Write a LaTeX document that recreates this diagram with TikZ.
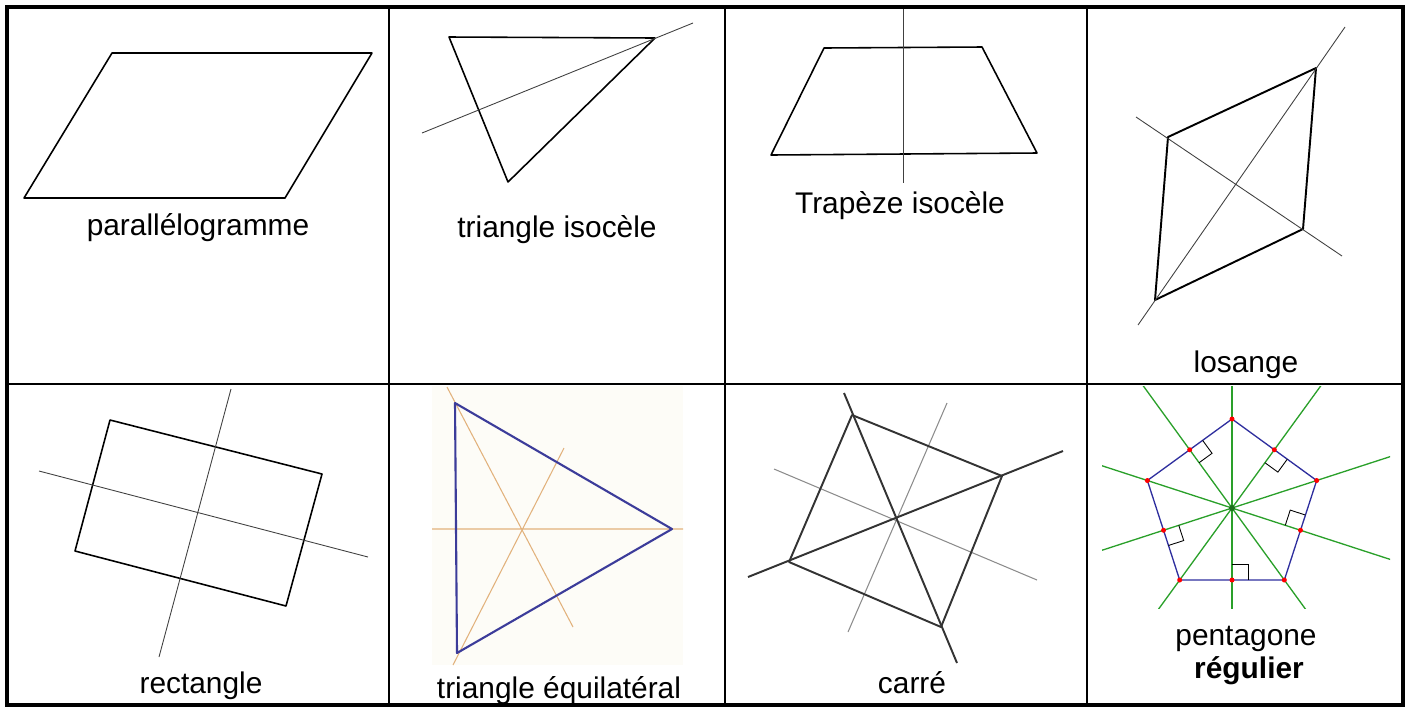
\documentclass[tikz,border=0pt]{standalone}
\usepackage{fontspec}
\setmainfont{Liberation Sans}
\usetikzlibrary{calc}

\definecolor{triblue}{HTML}{3C3C9A}
\definecolor{axeorange}{HTML}{E2B27C}
\definecolor{pentgreen}{HTML}{2AA02A}
\definecolor{pentblue}{HTML}{2E2E9E}
\definecolor{creme}{HTML}{FDFCF7}

\tikzset{
  cadre/.style={line width=2.2pt},
  grille/.style={line width=1.1pt},
  figure/.style={line width=0.9pt, line join=round},
  axe/.style={line width=0.5pt, black!75},
  nom/.style={anchor=base, font=\fontsize{17pt}{20pt}\selectfont},
}

\begin{document}
\begin{tikzpicture}[x=0.02cm, y=-0.02cm]
        \useasboundingbox (0,0) rectangle (1408,708);
        
        % Parallelogramme
        \draw[figure] (112,53) -- (372,53) -- (285,198) -- (24,198) -- cycle;
        \node[nom] (para) at (198,235) {parallélogramme};
        % Triangle isocele (axis through apex)
        \draw[figure] (449,37) -- (655,38) -- (508,182) -- cycle;
        \draw[axe] (422,133) -- (693,23);
        \node[nom] (triiso) at (557,237) {triangle isocèle};
        % Trapeze isocele
        \draw[figure] (824,48) -- (982,47) -- (1037,153) -- (771,155) -- cycle;
        \draw[axe] (903,7) -- (903,183);
        \node[nom] (trap) at (900,213) {Trapèze isocèle};
        % Losange (two diagonals)
        \draw[figure, line width=1.1pt] (1316,68) -- (1168,137) -- (1155,300) -- (1303,229) -- cycle;
        \draw[axe] (1138,325) -- (1345,27) (1136,117) -- (1342,256);
        \node[nom] (los) at (1246,372) {losange};
        
        % Rectangle
        \draw[figure] (110,420) -- (322,474) -- (286,606) -- (75,551) -- cycle;
        \draw[axe] (39,471) -- (368,557) (231,389) -- (159,657);
        \node[nom] (rect) at (201,693) {rectangle};
        % Triangle equilateral (three orange axes)
        \fill[creme] (432,386) rectangle (683,665);
        \draw[axeorange, line width=0.6pt] (432,529) -- (683,529) (447,387) -- (573,627) (453,665) -- (564,448);
        \draw[triblue, line width=1.2pt, line join=round] (455,403) -- (672,529) -- (457,653) -- cycle;
        \node[nom] (triequi) at (559,698) {triangle équilatéral};
        % Carre (diagonals and medians)
        \draw[black!45, line width=0.6pt] (774,469) -- (1037,580) (947,403) -- (848,632);
        \draw[black!80, line width=1.1pt, line join=round] (852,415) -- (1002,476) -- (941,627) -- (789,562) -- cycle;
        \draw[black!80, line width=1.1pt] (844,393) -- (957,663) (748,577) -- (1063,451);
        \node[nom] (carre) at (912,693) {carré};
        % Pentagone regulier
        \coordinate (O) at (1232,508);
        \begin{scope}
            \clip (1102,386) rectangle (1390,608);
            \foreach \a in {18,90,162,234,306}
                \draw[pentgreen, line width=0.75pt] ($(O)+(\a:300)$) -- ($(O)+(\a+180:300)$);
        \end{scope}
        \draw[pentblue, line width=0.75pt, line join=round] ($(O)+(270:89)$)
            \foreach \a in {342,54,126,198} { -- ($(O)+(\a:89)$) } -- cycle;
        \foreach \p/\t in {90/0,162/72,234/324,306/396,18/-72}
            \draw[black, line width=0.5pt] ($(O)+(\p:72)+(\t:16)$) -- ++(\p+180:16) -- ($(O)+(\p:72)+(\p+180:16)$);
        \foreach \a in {270,342,54,126,198}
            \fill[red] ($(O)+(\a:89)$) circle (2.5);
        \foreach \a in {306,18,90,162,234}
            \fill[red] ($(O)+(\a:72)$) circle (2.5);
        \fill[pentgreen!70!black] (O) circle (3);
        \node[nom] (penta) at (1246,645) {pentagone};
        \node[nom, font=\fontsize{17pt}{20pt}\selectfont\bfseries] (regu) at (1249,678) {régulier};
        
        % Table
        \draw[grille] (389,7) -- (389,705) (725,7) -- (725,705) (1087,7) -- (1087,705);
        \draw[line width=0.9pt] (7,384) -- (1403,384);
        \draw[cadre] (7,7) rectangle (1403,705);
\end{tikzpicture}
\end{document}
